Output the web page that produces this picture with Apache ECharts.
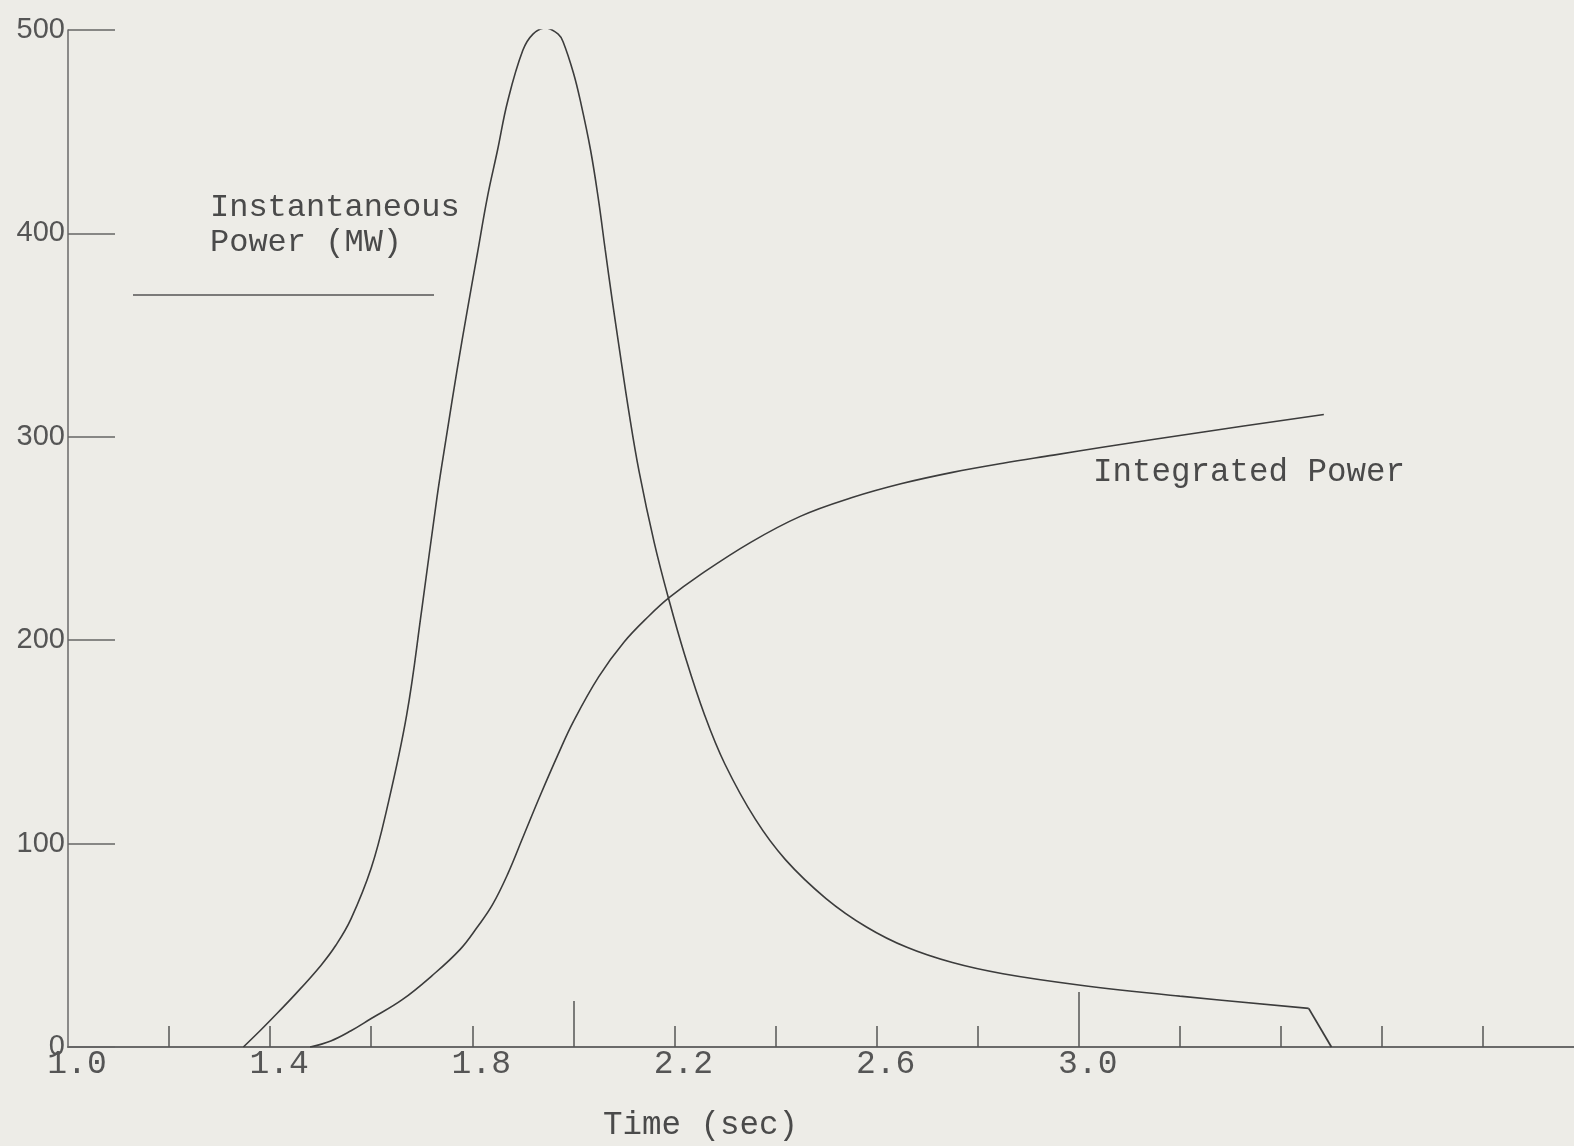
<!DOCTYPE html>
<html>
<head>
<meta charset="utf-8">
<script src="https://cdn.jsdelivr.net/npm/echarts@6/dist/echarts.min.js"></script>
<style>
html,body{margin:0;padding:0;background:#edece7;}
#chart{width:1574px;height:1146px;}
</style>
</head>
<body>
<div id="chart"></div>
<script>
// ---- data ----
const instTime  = [1.347,1.38,1.40,1.45,1.50,1.53,1.56,1.60,1.63,1.67,1.70,1.73,1.75,1.77,1.79,1.81,1.83,1.85,1.87,1.90,1.92,1.945,1.97,1.98,2.00,2.014,2.034,2.05,2.063,2.077,2.09,2.11,2.13,2.16,2.19,2.22,2.26,2.30,2.36,2.42,2.50,2.58,2.66,2.75,2.85,3.00,3.20,3.455,3.50];
const instPower = [0,8,13,26,40,50,63,88,116,163,215,270,302,333,362,390,418,441,465,490,498,501,498,494,479,465,441,416,392,367,345,312,283,248,219,193,163,139,112,92,73,59,49,41.5,36,30.5,25,19,0];

const intTime  = [1.479,1.52,1.56,1.60,1.66,1.72,1.776,1.81,1.84,1.87,1.90,1.935,1.97,2.00,2.05,2.10,2.15,2.19,2.25,2.35,2.45,2.55,2.65,2.75,2.85,2.95,3.05,3.25,3.485];
const intPower = [0,3,8,14,23,35,48,59,70,85,103,124,144,160,182,199,212,221,232,248,261,270,277,282.5,287,291,295,302.5,311];

const xMinorTicks = [1.2,1.4,1.6,1.8,2.2,2.4,2.6,2.8,3.2,3.4,3.6,3.8];
const xMidTicks   = [2.0];
const xMajorTicks = [3.0];
const xLabels     = [1.0,1.4,1.8,2.2,2.6,3.0];
const yTicks      = [0,100,200,300,400,500];

const labelInst1 = 'Instantaneous';
const labelInst2 = 'Power (MW)';
const labelInt   = 'Integrated Power';
const labelX     = 'Time (sec)';

// ---- chart ----
const ink = '#3c3c3c';
const mono = '"Liberation Mono", "DejaVu Sans Mono", monospace';
const chart = echarts.init(document.getElementById('chart'), null, {renderer:'canvas'});

const instPairs = instTime.map((t,i)=>[t,instPower[i]]);
const instMain  = instPairs.slice(0, instPairs.length-1);
const instDrop  = instPairs.slice(instPairs.length-2);
const intData   = intTime.map((t,i)=>[t,intPower[i]]);

const baseX = {type:'value', min:1.0, max:3.98, position:'bottom', splitLine:{show:false}};

chart.setOption({
  backgroundColor:'#edece7',
  animation:false,
  grid:{left:68, right:0, top:30, bottom:99, containLabel:false},
  xAxis:[
    Object.assign({}, baseX, {
      axisLine:{show:true, onZero:false, lineStyle:{color:'#6a6a6a', width:2}},
      axisTick:{show:true, inside:true, length:21, customValues:xMinorTicks, lineStyle:{color:'#555', width:1.5}},
      axisLabel:{
        show:true, margin:1, color:'#555', fontFamily:mono, fontSize:33,
        padding:[0,0,0,18], customValues:xLabels,
        formatter:function(v){return Number(v).toFixed(1);}
      }
    }),
    Object.assign({}, baseX, {
      axisLine:{show:false},
      axisTick:{show:true, inside:true, length:46, customValues:xMidTicks, lineStyle:{color:'#555', width:1.5}},
      axisLabel:{show:false}
    }),
    Object.assign({}, baseX, {
      axisLine:{show:false},
      axisTick:{show:true, inside:true, length:55, customValues:xMajorTicks, lineStyle:{color:'#555', width:1.5}},
      axisLabel:{show:false}
    })
  ],
  yAxis:{
    type:'value', min:0, max:500, interval:100,
    splitLine:{show:false},
    axisLine:{show:true, lineStyle:{color:'#6a6a6a', width:1.5}},
    axisTick:{show:true, inside:true, length:47, lineStyle:{color:'#666', width:1.5}},
    axisLabel:{
      margin:3, color:'#555', fontFamily:'"Liberation Sans", "DejaVu Sans", sans-serif', fontSize:29,
      formatter:function(v){return yTicks.indexOf(v)>=0?String(v):'';}
    }
  },
  series:[
    {type:'line', name:labelInst2, data:instMain, xAxisIndex:0, showSymbol:false, smooth:0.4,
     lineStyle:{color:ink, width:1.6}},
    {type:'line', name:labelInst2+' drop', data:instDrop, xAxisIndex:0, showSymbol:false, smooth:false,
     lineStyle:{color:ink, width:1.8}},
    {type:'line', name:labelInt, data:intData, xAxisIndex:0, showSymbol:false, smooth:0.4,
     lineStyle:{color:ink, width:1.6}}
  ],
  graphic:[
    {type:'text', left:210, top:192, style:{text:labelInst1, font:'32px '+mono, fill:'#4a4a4a'}},
    {type:'text', left:210, top:227, style:{text:labelInst2, font:'32px '+mono, fill:'#4a4a4a'}},
    {type:'line', shape:{x1:133, y1:295, x2:434, y2:295}, style:{stroke:'#555', lineWidth:1.6}},
    {type:'text', left:1093, top:456, style:{text:labelInt, font:'32.5px '+mono, fill:'#4a4a4a'}},
    {type:'text', left:603, top:1109, style:{text:labelX, font:'32.5px '+mono, fill:'#4a4a4a'}}
  ]
});
</script>
</body>
</html>
